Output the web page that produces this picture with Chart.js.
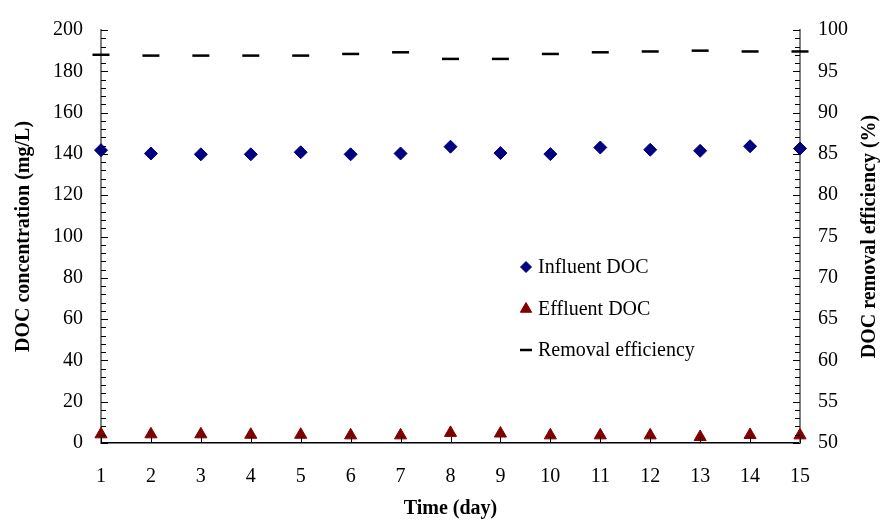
<!DOCTYPE html>
<html>
<head>
<meta charset="utf-8">
<script src="https://cdn.jsdelivr.net/npm/chart.js@4.4.1/dist/chart.umd.min.js"></script>
<style>
  body { margin: 0; background: #fff; }
  #wrap { width: 883px; height: 523px; }
</style>
</head>
<body>
<div id="wrap"><canvas id="docChart" width="883" height="523"></canvas></div>
<script>
const days = [1, 2, 3, 4, 5, 6, 7, 8, 9, 10, 11, 12, 13, 14, 15];
const influentDOC = [141.8, 140.2, 139.8, 139.8, 140.8, 139.8, 140.2, 143.5, 140.4, 139.9, 143.1, 142.0, 141.5, 143.7, 142.6];
const effluentDOC = [4.2, 4.2, 4.2, 4.0, 4.0, 3.7, 3.7, 4.9, 4.6, 3.7, 3.7, 3.7, 2.9, 3.9, 3.7];
const removalEff = [97.0, 96.9, 96.9, 96.9, 96.9, 97.1, 97.3, 96.5, 96.5, 97.1, 97.3, 97.4, 97.5, 97.4, 97.4];
const legendLabels = ['Influent DOC', 'Effluent DOC', 'Removal efficiency'];
const rightTitle = 'DOC removal efficiency (%)';

const serif = "'Liberation Serif', 'Times New Roman', serif";

function toPoints(values) {
  return days.map((d, i) => ({ x: d, y: values[i] }));
}

// inward tick marks, drawn with the chart's scales
const innerTicks = {
  id: 'innerTicks',
  afterDraw(chart) {
    const ctx = chart.ctx;
    const area = chart.chartArea;
    const xs = chart.scales.x, yl = chart.scales.y, yr = chart.scales.y1;
    ctx.save();
    ctx.strokeStyle = '#000';
    ctx.lineWidth = 1;
    days.forEach(d => {
      const px = Math.round(xs.getPixelForValue(d)) + 0.5;
      ctx.beginPath();
      ctx.moveTo(px, area.bottom);
      ctx.lineTo(px, area.bottom - 6);
      ctx.stroke();
    });
    for (let v = 0; v <= 200; v += 4) {
      const py = Math.round(yl.getPixelForValue(v)) + 0.5;
      const len = v % 20 === 0 ? 7 : 5;
      ctx.beginPath();
      ctx.moveTo(area.left, py);
      ctx.lineTo(area.left + len, py);
      ctx.stroke();
    }
    for (let v = 50; v <= 100; v += 1) {
      const py = Math.round(yr.getPixelForValue(v)) + 0.5;
      const len = v % 5 === 0 ? 7 : 5;
      ctx.beginPath();
      ctx.moveTo(area.right, py);
      ctx.lineTo(area.right - len, py);
      ctx.stroke();
    }
    // right axis title reads bottom to top, like the left one
    ctx.translate(870, (area.top + area.bottom) / 2);
    ctx.rotate(-Math.PI / 2);
    ctx.font = 'bold 20px ' + serif;
    ctx.fillStyle = '#000';
    ctx.textAlign = 'center';
    ctx.textBaseline = 'middle';
    ctx.fillText(rightTitle, 0, 0);
    ctx.restore();
  }
};

// legend placed inside the plot area
const innerLegend = {
  id: 'innerLegend',
  afterDraw(chart) {
    const ctx = chart.ctx;
    const rows = [267, 309, 350];
    ctx.save();
    ctx.font = '20px ' + serif;
    ctx.textBaseline = 'middle';
    chart.data.datasets.forEach((ds, i) => {
      ctx.fillStyle = ds.backgroundColor;
      ctx.strokeStyle = ds.borderColor;
      ctx.lineWidth = ds.borderWidth;
      Chart.helpers.drawPoint(ctx, {
        pointStyle: ds.pointStyle,
        radius: ds.legendRadius,
        borderWidth: ds.borderWidth,
        rotation: 0
      }, 526, rows[i]);
      ctx.fillStyle = '#000';
      ctx.fillText(legendLabels[i], 538, rows[i] + 1);
    });
    ctx.restore();
  }
};

new Chart(document.getElementById('docChart'), {
  type: 'scatter',
  data: {
    datasets: [
      {
        label: legendLabels[0],
        data: toPoints(influentDOC),
        yAxisID: 'y',
        pointStyle: 'rectRot',
        pointRadius: 6.5,
        legendRadius: 5.5,
        backgroundColor: '#000080',
        borderColor: '#000080',
        borderWidth: 1,
        clip: false
      },
      {
        label: legendLabels[1],
        data: toPoints(effluentDOC),
        yAxisID: 'y',
        pointStyle: 'triangle',
        pointRadius: 7,
        legendRadius: 6.5,
        backgroundColor: '#800000',
        borderColor: '#800000',
        borderWidth: 1,
        clip: false
      },
      {
        label: legendLabels[2],
        data: toPoints(removalEff),
        yAxisID: 'y1',
        pointStyle: 'line',
        pointRadius: 8.5,
        legendRadius: 6,
        backgroundColor: '#000',
        borderColor: '#000',
        borderWidth: 2.5,
        clip: false
      }
    ]
  },
  options: {
    responsive: false,
    animation: false,
    devicePixelRatio: 1,
    layout: { padding: { top: 18, left: 12, right: 0, bottom: 0 } },
    plugins: {
      legend: { display: false },
      tooltip: { enabled: false }
    },
    scales: {
      x: {
        type: 'linear',
        min: 1,
        max: 15,
        grid: { display: false, drawTicks: false },
        border: { display: true, color: '#000', width: 1.5 },
        ticks: {
          stepSize: 1,
          padding: 22,
          color: '#000',
          font: { family: serif, size: 20 }
        },
        title: {
          display: true,
          text: 'Time (day)',
          color: '#000',
          font: { family: serif, size: 20, weight: 'bold' },
          padding: { top: 4, bottom: 2 }
        },
        afterFit(scale) { scale.height = 80; }
      },
      y: {
        position: 'left',
        min: 0,
        max: 200,
        grid: { display: false, drawTicks: false },
        border: { display: true, color: '#808080', width: 2 },
        ticks: {
          stepSize: 20,
          padding: 18,
          color: '#000',
          font: { family: serif, size: 20 }
        },
        title: {
          display: true,
          text: 'DOC concentration (mg/L)',
          color: '#000',
          font: { family: serif, size: 20, weight: 'bold' },
          padding: { top: 0, bottom: 0 }
        },
        afterFit(scale) { scale.width = 89; }
      },
      y1: {
        position: 'right',
        min: 50,
        max: 100,
        grid: { display: false, drawTicks: false },
        border: { display: true, color: '#808080', width: 2 },
        ticks: {
          stepSize: 5,
          padding: 18,
          color: '#000',
          font: { family: serif, size: 20 }
        },
        afterFit(scale) { scale.width = 83; }
      }
    }
  },
  plugins: [innerTicks, innerLegend]
});
</script>
</body>
</html>
